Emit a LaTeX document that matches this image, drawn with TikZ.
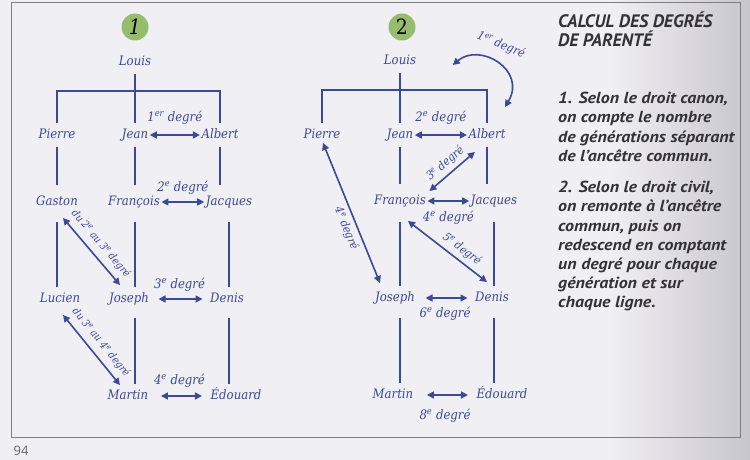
\documentclass[tikz,border=0pt]{standalone}
\usepackage{fontspec}
\setmainfont{DejaVu Serif Condensed}
\newfontfamily\sansbi{PT Sans}
\newfontfamily\sansbody{PT Sans}[FakeStretch=1.12]
\newfontfamily\pgnum{Open Sans}
\usetikzlibrary{arrows.meta}
\definecolor{ink}{RGB}{60,72,152}
\definecolor{numgreen}{RGB}{150,188,110}
\definecolor{txt}{RGB}{50,50,55}
\definecolor{framec}{RGB}{125,125,130}
\definecolor{bgc}{RGB}{240,239,244}
\definecolor{bgdark}{RGB}{200,198,205}
\begin{document}
\begin{tikzpicture}[x=1pt,y=-1pt,
  pname/.style={font=\itshape\fontsize{13}{14}\selectfont, text=ink, inner xsep=1.5pt, inner ysep=5.5pt, text height=9.5pt, text depth=3pt},
  degl/.style={font=\itshape\fontsize{13}{14}\selectfont, text=ink, inner sep=0pt, text height=9.5pt, text depth=3pt},
  sdegl/.style={font=\itshape\fontsize{11.5}{12}\selectfont, text=ink, inner sep=1pt},
  smalldegl/.style={font=\itshape\fontsize{10.5}{11}\selectfont, text=ink, inner sep=1pt},
  treeline/.style={draw=ink, line width=1.6pt},
  dblarrow/.style={draw=ink, line width=1.6pt, {Triangle[length=7pt,width=7pt]}-{Triangle[length=7pt,width=7pt]}},
  numcircle/.style={circle, fill=numgreen, minimum size=27pt, inner sep=0pt, font=\fontsize{21}{21}\selectfont},
  bodytext/.style={anchor=north west, inner sep=0pt, align=left, text=txt},
]
\fill[bgc] (0,0) rectangle (750,460);
\shade[left color=bgc, right color=bgdark] (610,0) rectangle (750,460);
\useasboundingbox (0,0) rectangle (750,460);
\draw[framec, line width=1pt] (11,3) rectangle (740,437);
\node[font=\pgnum\fontsize{13}{13}\selectfont, text=black!60] (pg) at (21,451) {94};

% ---------- diagram 1 ----------
\node[numcircle] (C1) at (135,27) {\itshape 1};
\node[pname] (L1) at (135,62) {Louis};
\node[pname] (P1) at (57,135) {Pierre};
\node[pname] (J1) at (135,135) {Jean};
\node[pname] (A1) at (220,135) {Albert};
\node[pname] (G1) at (57,202) {Gaston};
\node[pname] (F1) at (134,202) {François};
\node[pname] (Q1) at (229,202) {Jacques};
\node[pname] (U1) at (60,299) {Lucien};
\node[pname] (S1) at (129,299) {Joseph};
\node[pname] (D1) at (227,299) {Denis};
\node[pname] (M1) at (128,396) {Martin};
\node[pname] (E1) at (236,396) {Édouard};
\coordinate (B1) at (135,91);

\draw[treeline] (L1.south) -- (J1.north);
\draw[treeline] (P1.north) -- (P1.north |- B1) -- (A1.north |- B1) -- (A1.north);
\draw[treeline, shorten >=5pt] (P1.south) -- (G1.north);
\draw[treeline, shorten >=5pt] (J1.south) -- (J1.south |- F1.north);
\draw[treeline, shorten >=5pt] (A1.south) -- (A1.south |- Q1.north);
\draw[treeline, shorten <=8pt] (G1.south) -- (G1.south |- U1.north);
\draw[treeline, shorten <=8pt] (F1.south -| J1.south) -- (J1.south |- S1.north);
\draw[treeline, shorten <=8pt] (Q1.south) -- (Q1.south |- D1.north);
\draw[treeline, shorten <=7pt] (S1.south -| J1.south) -- (J1.south |- M1.north);
\draw[treeline, shorten <=7pt] (D1.south -| Q1.south) -- (Q1.south |- E1.north);

\draw[dblarrow] (J1) -- (A1) node[degl, midway, above=10pt] {1\textsuperscript{er} degré};
\draw[dblarrow] (F1) -- (Q1) node[degl, midway, above=7pt] {2\textsuperscript{e} degré};
\draw[dblarrow, shorten <=8pt, shorten >=6pt] (S1) -- (D1) node[degl, midway, above=7pt] {3\textsuperscript{e} degré};
\draw[dblarrow, shorten <=11pt, shorten >=7pt] (M1) -- (E1) node[degl, midway, above=8pt] {4\textsuperscript{e} degré};

\draw[dblarrow] ([shift={(6,4)}]G1.south) -- ([shift={(-9,-2)}]S1.north)
  node[smalldegl, midway, sloped, above=5pt] {du 2\textsuperscript{e} au 3\textsuperscript{e} degré};
\draw[dblarrow] ([shift={(3,4)}]U1.south) -- ([shift={(-8,1)}]M1.north)
  node[smalldegl, midway, sloped, above=5pt] {du 3\textsuperscript{e} au 4\textsuperscript{e} degré};

% ---------- diagram 2 ----------
\node[numcircle] (C2) at (402,27) {2};
\node[pname] (L2) at (400,61) {Louis};
\node[pname] (P2) at (322,135) {Pierre};
\node[pname] (J2) at (400,135) {Jean};
\node[pname] (A2) at (487,135) {Albert};
\node[pname] (F2) at (400,201) {François};
\node[pname] (Q2) at (494,201) {Jacques};
\node[pname] (S2) at (395,298) {Joseph};
\node[pname] (D2) at (492,298) {Denis};
\node[pname] (M2) at (393,395) {Martin};
\node[pname] (E2) at (502,395) {Édouard};
\coordinate (B2) at (400,90);

\draw[treeline] (L2.south) -- (J2.north);
\draw[treeline] (P2.north) -- (P2.north |- B2) -- (A2.north |- B2) -- (A2.north);
\draw[treeline, shorten >=5pt] (J2.south) -- (J2.south |- F2.north);
\draw[treeline, shorten >=5pt] (A2.south) -- (A2.south |- Q2.north);
\draw[treeline, shorten <=9pt] (F2.south) -- (F2.south |- S2.north);
\draw[treeline, shorten <=9pt] (Q2.south) -- (Q2.south |- D2.north);
\draw[treeline, shorten <=8pt] (S2.south -| F2.south) -- (F2.south |- M2.north);
\draw[treeline, shorten <=8pt] (D2.south -| Q2.south) -- (Q2.south |- E2.north);

\draw[dblarrow] (J2) -- (A2) node[degl, midway, above=10pt] {2\textsuperscript{e} degré};
\draw[dblarrow] (F2) -- (Q2) node[degl, midway, below=10pt] {4\textsuperscript{e} degré};
\draw[dblarrow, shorten <=9pt, shorten >=6pt] (S2) -- (D2) node[degl, midway, below=9pt] {6\textsuperscript{e} degré};
\draw[dblarrow, shorten <=12pt, shorten >=7pt] (M2) -- (E2) node[degl, midway, below=14pt] {8\textsuperscript{e} degré};

\draw[dblarrow] ([shift={(35,4)}]L2.east) .. controls (480,42) and (527,70) .. ([shift={(18,-16)}]A2.north);
\node[sdegl, font=\itshape\fontsize{12}{12}\selectfont, rotate=-22] (D1er) at (501,45) {1\textsuperscript{er} degré};

\draw[dblarrow] ([shift={(2,2)}]F2.north east) -- ([shift={(8,5)}]A2.south west)
  node[sdegl, midway, sloped, above=3pt] {3\textsuperscript{e} degré};
\draw[dblarrow] ([shift={(1,-4)}]P2.south) -- ([shift={(-15,-3)}]S2.north)
  node[sdegl, pos=0.58, sloped, below=3pt] {4\textsuperscript{e} degré};
\draw[dblarrow] ([shift={(8,8)}]F2.south) -- ([shift={(-5,-4)}]D2.north)
  node[sdegl, pos=0.6, sloped, above=3pt] {5\textsuperscript{e} degré};

% ---------- text ----------
\node[bodytext, font=\sansbi\bfseries\itshape\fontsize{18}{18.5}\selectfont] (T) at (558,12)
  {CALCUL DES DEGRÉS\\DE PARENTÉ};
\node[bodytext, font=\sansbody\bfseries\itshape\fontsize{16}{19.2}\selectfont] (TB1) at (558,92)
  {1. Selon le droit canon,\\on compte le nombre\\de générations séparant\\de l’ancêtre commun.};
\node[bodytext, font=\sansbody\bfseries\itshape\fontsize{16}{19.2}\selectfont] (TB2) at (558,181)
  {2. Selon le droit civil,\\on remonte à l’ancêtre\\commun, puis on\\redescend en comptant\\un degré pour chaque\\génération et sur\\chaque ligne.};
\end{tikzpicture}
\end{document}
